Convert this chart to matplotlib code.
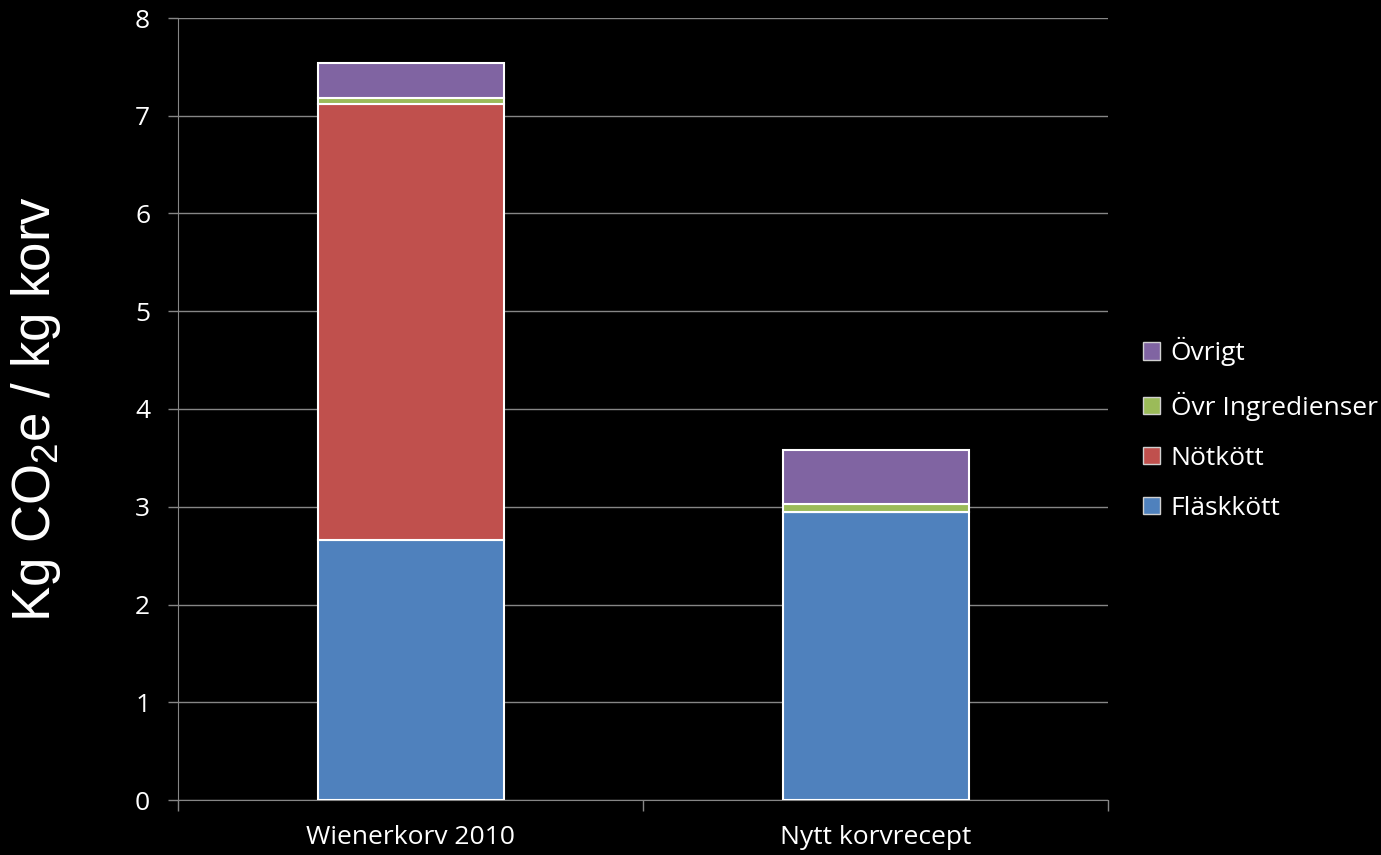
import numpy as np
import matplotlib
matplotlib.use("Agg")
import matplotlib.pyplot as plt
from matplotlib.patches import Patch

# Data
categories = ["Wienerkorv 2010", "Nytt korvrecept"]
series_names = ["Fläskkött", "Nötkött", "Övr Ingredienser", "Övrigt"]
flaskkott = [2.66, 2.95]
notkott = [4.46, 0.0]
ovr_ingredienser = [0.06, 0.08]
ovrigt = [0.36, 0.55]
colors = ["#4F81BD", "#C0504D", "#9BBB59", "#8064A2"]

plt.rcParams['mathtext.default'] = 'regular'

fig = plt.figure(figsize=(13.81, 8.55), dpi=100, facecolor='black')
ax = fig.add_axes([178 / 1381, 1 - 800 / 855, 930 / 1381, 782 / 855])
ax.set_facecolor('black')

x = np.arange(len(categories))
bottom = np.zeros(len(categories))
for vals, name, col in zip([flaskkott, notkott, ovr_ingredienser, ovrigt], series_names, colors):
    vals = np.array(vals)
    ax.bar(x, vals, width=0.4, bottom=bottom, color=col, edgecolor='white',
           linewidth=1.5, label=name, zorder=3)
    bottom += vals

ax.set_xlim(-0.5, 1.5)
ax.set_ylim(0, 8)
ax.set_yticks(range(0, 9))
ax.grid(axis='y', color='#868686', linewidth=1.0, zorder=0)

tick_font = 'Open Sans'
ax.set_xticks(x)
ax.set_xticklabels(categories, fontsize=19, color='white', family=tick_font)
ax.tick_params(axis='x', length=0, pad=18)
ax.set_xticks([-0.5, 0.5, 1.5], minor=True)
ax.tick_params(axis='x', which='minor', length=8, color='#868686', width=1)
ax.tick_params(axis='y', length=7, color='#868686', width=1, labelsize=19,
               labelcolor='white', pad=13)
for lab in ax.get_yticklabels():
    lab.set_family(tick_font)

for side in ['top', 'right']:
    ax.spines[side].set_visible(False)
for side in ['left', 'bottom']:
    ax.spines[side].set_color('#868686')

ax.set_ylabel('Kg CO$_2$e / kg korv', fontsize=38, color='white',
              family='Liberation Sans', labelpad=52)

handles = [Patch(facecolor=c, edgecolor='#d0d0d0', linewidth=1, label=n)
           for c, n in zip(colors, series_names)][::-1]
leg = fig.legend(handles=handles, loc='center left', bbox_to_anchor=(1143 / 1381, 1 - 429 / 855),
                 frameon=False, prop={'family': tick_font, 'size': 19},
                 labelcolor='white', handlelength=0.65, handleheight=0.65,
                 handletextpad=0.4, labelspacing=0.95, borderaxespad=0, borderpad=0)

fig.savefig('out.png', dpi=100, facecolor='black')
